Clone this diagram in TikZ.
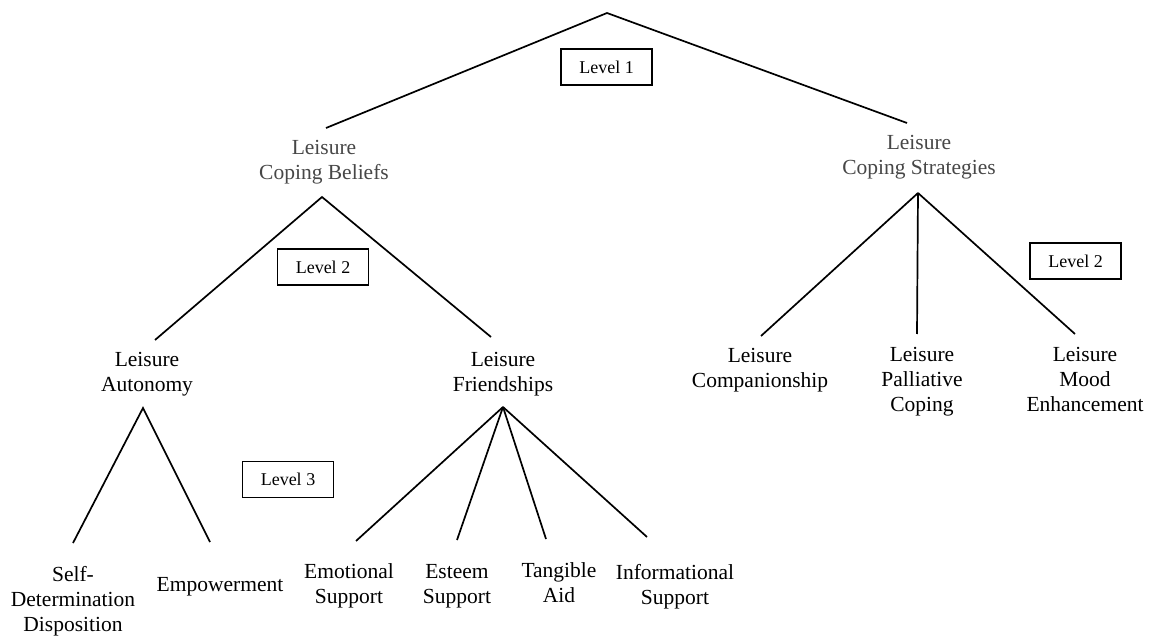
\documentclass[tikz,border=0pt]{standalone}
\usepackage{fontspec}
\setmainfont{Liberation Serif}
\begin{document}
\begin{tikzpicture}[x=1pt,y=-1pt,
  lbl/.style={align=center, font=\fontsize{21.5}{25}\selectfont, inner sep=0pt},
  toplbl/.style={lbl, text=black!72},
  lvl/.style={draw, line width=1.4pt, minimum width=91pt, minimum height=36pt, font=\fontsize{18}{20}\selectfont, inner sep=0pt},
  conn/.style={line width=1.7pt}]
\useasboundingbox (0,0) rectangle (1149,636);

% level 1
\coordinate (root) at (607,13);
\coordinate (rootL) at (326,128);
\coordinate (rootR) at (907,123);
\node[lvl, line width=1.8pt] (lv1) at (606.5,67) {Level 1};
\node[toplbl] (cb) at (324,162.3) {Leisure\\Coping Beliefs};
\node[toplbl] (cs) at (919,157.3) {Leisure\\Coping Strategies};
\draw[conn] (rootL) -- (root) -- (rootR);

% level 2 left
\coordinate (cbA) at (322,197);
\coordinate (cbL) at (155,340);
\coordinate (cbR) at (491,337);
\node[lvl] (lv2a) at (323,267) {Level 2};
\node[lbl] (la) at (147,374.3) {Leisure\\Autonomy};
\node[lbl] (lf) at (503,374.3) {Leisure\\Friendships};
\draw[conn] (cbL) -- (cbA) -- (cbR);

% level 2 right
\coordinate (csA) at (918,193);
\coordinate (csL) at (761,336);
\coordinate (csM) at (917,334);
\coordinate (csR) at (1075,334);
\node[lvl] (lv2b) at (1075.5,261) {Level 2};
\node[lbl] (lc) at (760,370.3) {Leisure\\Companionship};
\node[lbl] (lp) at (922,381.9) {Leisure\\Palliative\\Coping};
\node[lbl] (lm) at (1085,379.5) {Leisure\\Mood\\Enhancement};
\draw[conn] (csA) -- (csL);
\draw[conn] (csA) -- (csM);
\draw[conn] (csA) -- (csR);

% level 3 autonomy
\coordinate (auA) at (143,408);
\coordinate (auL) at (73,543);
\coordinate (auR) at (210,542);
\node[lvl] (lv3) at (288,479.5) {Level 3};
\node[lbl] (sd) at (73,600.9) {Self-\\Determination\\Disposition};
\node[lbl] (em) at (220,586.3) {Empowerment};
\draw[conn] (auL) -- (auA) -- (auR);

% level 3 friendships
\coordinate (frA) at (503,407);
\coordinate (fr1) at (356,541);
\coordinate (fr2) at (457,540);
\coordinate (fr3) at (546,539);
\coordinate (fr4) at (647,537);
\node[lbl] (es) at (349,586.3) {Emotional\\Support};
\node[lbl] (et) at (457,586.3) {Esteem\\Support};
\node[lbl] (ta) at (559,583) {Tangible\\Aid};
\node[lbl] (is) at (675,586.3) {Informational\\Support};
\foreach \e in {fr1,fr2,fr3,fr4} \draw[conn] (frA) -- (\e);
\end{tikzpicture}
\end{document}
